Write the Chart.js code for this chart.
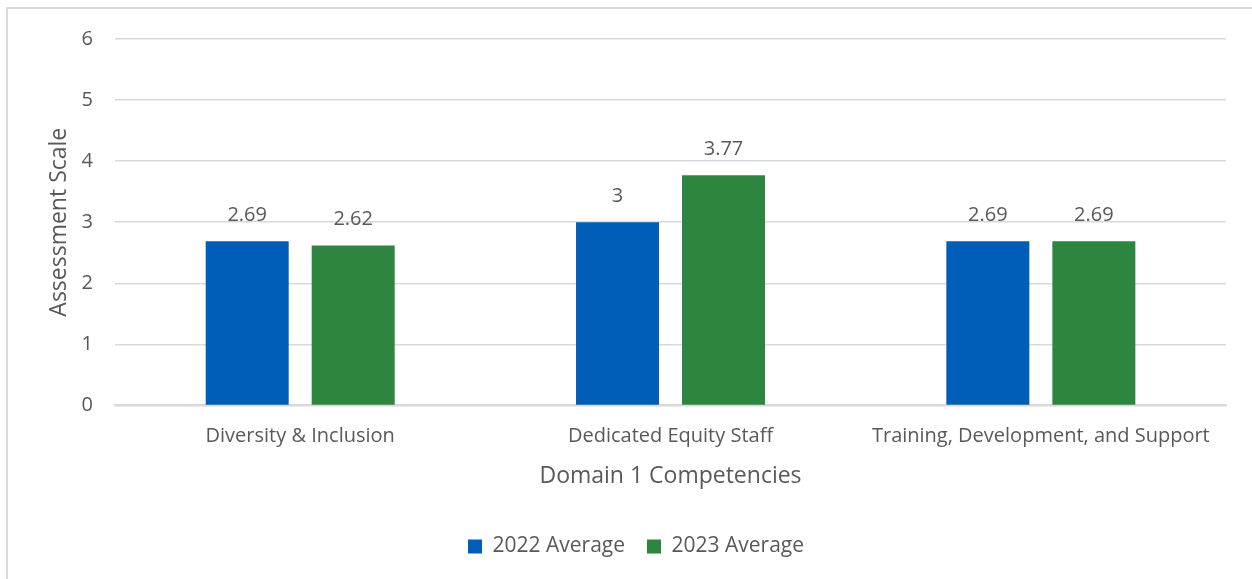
<!DOCTYPE html>
<html>
<head>
<meta charset="utf-8">
<script src="https://cdn.jsdelivr.net/npm/chart.js@4"></script>
<style>
  html, body { margin: 0; padding: 0; background: #fff; overflow: hidden; }
  #frame { position: absolute; left: 6px; top: 7px; width: 1300px; height: 700px; border: 2px solid #d9d9d9; }
  #wrap { position: absolute; left: 0; top: 0; width: 1252px; height: 579px; }
</style>
</head>
<body>
<div id="frame"></div>
<div id="wrap"><canvas id="chart"></canvas></div>
<script>
// data
const categories = ['Diversity & Inclusion', 'Dedicated Equity Staff', 'Training, Development, and Support'];
const avg2022 = [2.69, 3, 2.69];
const avg2023 = [2.62, 3.77, 2.69];
const seriesNames = ['2022 Average', '2023 Average'];
const yTicks = [0, 1, 2, 3, 4, 5, 6];

const textColor = '#595959';
const fontFamily = "'Open Sans', 'Noto Sans', sans-serif";

/* value labels above bars */
const barLabels = {
    id: 'barLabels',
    afterDatasetsDraw(chart) {
        const ctx = chart.ctx;
        ctx.save();
        ctx.font = '20px ' + fontFamily;
        ctx.fillStyle = textColor;
        ctx.textAlign = 'center';
        ctx.textBaseline = 'middle';
        chart.data.datasets.forEach((ds, i) => {
            chart.getDatasetMeta(i).data.forEach((bar, j) => {
                ctx.fillText(String(ds.data[j]), bar.x, bar.y - 26);
            });
        });
        ctx.restore();
    }
};

new Chart(document.getElementById('chart'), {
    type: 'bar',
    data: {
        labels: categories,
        datasets: [
            { label: seriesNames[0], data: avg2022, backgroundColor: '#005EB8', categoryPercentage: 0.5725, barPercentage: 0.783 },
            { label: seriesNames[1], data: avg2023, backgroundColor: '#2E8540', categoryPercentage: 0.5725, barPercentage: 0.783 }
        ]
    },
    options: {
        responsive: true,
        maintainAspectRatio: false,
        animation: false,
        layout: { padding: { left: 46, right: 26, top: 39, bottom: 12 } },
        plugins: {
            legend: {
                position: 'bottom',
                labels: {
                    boxWidth: 14, boxHeight: 14, padding: 22,
                    color: textColor,
                    font: { size: 21, family: fontFamily }
                }
            },
            tooltip: { enabled: false }
        },
        scales: {
            x: {
                grid: { display: false, drawTicks: false },
                border: { display: true, color: '#d9d9d9', width: 2 },
                ticks: { color: textColor, font: { size: 20, family: fontFamily }, padding: 19 },
                title: { display: true, text: 'Domain 1 Competencies', color: textColor, font: { size: 23, family: fontFamily }, padding: { top: -5, bottom: 24 } }
            },
            y: {
                min: 0, max: 6,
                afterBuildTicks: axis => { axis.ticks = yTicks.map(v => ({ value: v })); },
                grid: { color: '#d9d9d9', lineWidth: 1.5, drawTicks: false },
                border: { display: false },
                ticks: { color: textColor, font: { size: 20, family: fontFamily }, padding: 22 },
                title: { display: true, text: 'Assessment Scale', color: textColor, font: { size: 23, family: fontFamily }, padding: { top: 0, bottom: -14 } }
            }
        }
    },
    plugins: [barLabels]
});
</script>
</body>
</html>
